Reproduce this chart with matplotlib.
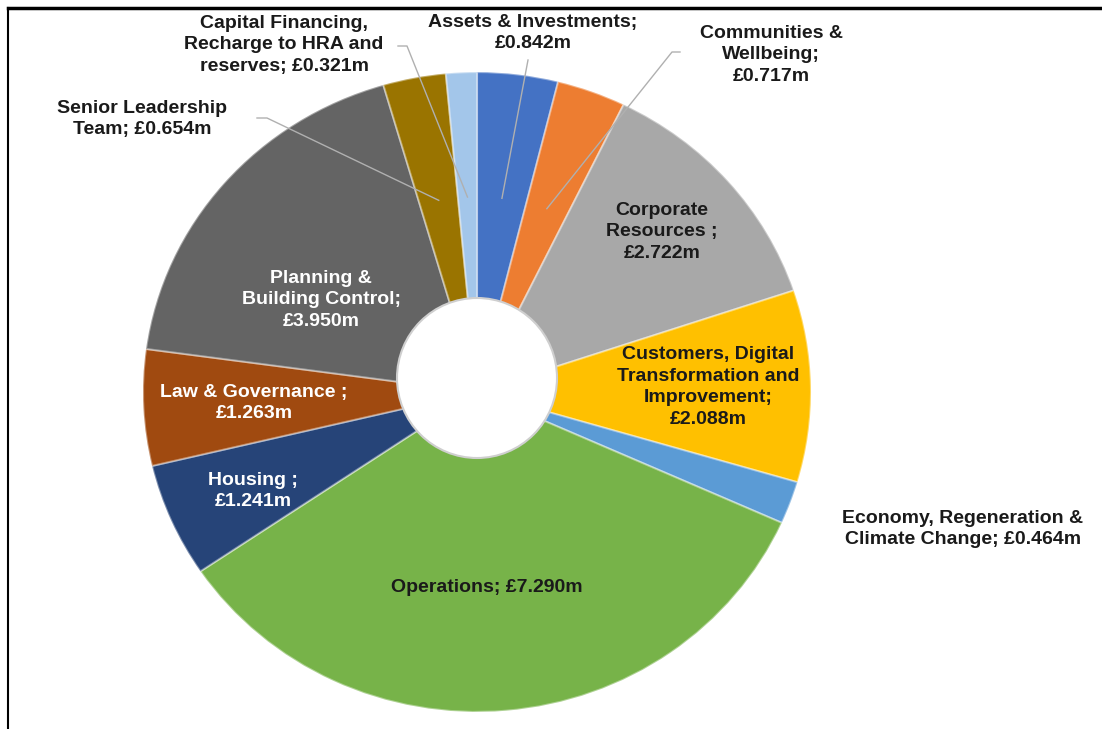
import matplotlib.pyplot as plt
from matplotlib.patches import Ellipse
from matplotlib.lines import Line2D
import numpy as np

plt.rcParams['font.family'] = ['Liberation Sans', 'DejaVu Sans']

# net spend per service, £m (clockwise from 12 o'clock)
services = ["Assets & Investments", "Communities & Wellbeing",
            "Corporate Resources", "Customers, Digital Transformation and Improvement",
            "Economy, Regeneration & Climate Change", "Operations", "Housing",
            "Law & Governance", "Planning & Building Control",
            "Senior Leadership Team", "Capital Financing, Recharge to HRA and reserves"]
spend = [0.842, 0.717, 2.722, 2.088, 0.464, 7.290, 1.241, 1.263, 3.950, 0.654, 0.321]
label_text = ["Assets & Investments;\n£{:.3f}m",
              "Communities &\nWellbeing;\n£{:.3f}m",
              "Corporate\nResources ;\n£{:.3f}m",
              "Customers, Digital\nTransformation and\nImprovement;\n£{:.3f}m",
              "Economy, Regeneration &\nClimate Change; £{:.3f}m",
              "Operations; £{:.3f}m",
              "Housing ;\n£{:.3f}m",
              "Law & Governance ;\n£{:.3f}m",
              "Planning &\nBuilding Control;\n£{:.3f}m",
              "Senior Leadership\nTeam; £{:.3f}m",
              "Capital Financing,\nRecharge to HRA and\nreserves; £{:.3f}m"]
colors = ["#4472C4", "#ED7D31", "#A8A8A8", "#FFC000", "#5B9BD5", "#77B349",
          "#264478", "#A04A10", "#646464", "#9A7400", "#A3C6EA"]

# label layout in pixels: centre of text, text colour, leader start + tick
label_pos = [(533, 33), (771, 55), (662, 232), (708, 387), (963, 529), (487, 588),
             (253, 491), (254, 403), (321, 300), (142, 119), (284, 45)]
label_col = ["#1a1a1a", "#1a1a1a", "#1a1a1a", "#1a1a1a", "#1a1a1a", "#1a1a1a",
             "white", "white", "white", "#1a1a1a", "#1a1a1a"]
leader_start = [(528, 60), (680, 52), None, None, None, None,
                None, None, None, (257, 118), (398, 46)]
leader_tick = [0, -8, 0, 0, 0, 0, 0, 0, 0, 10, 9]

W, H = 1102, 729
K = 1.044  # vertical squash of the tilted pie


def to_data(x, y):
    return x, (H - y) * K


fig = plt.figure(figsize=(W / 100, H / 100), dpi=100)
ax = fig.add_axes([0, 0, 1, 1])

cx, cy = to_data(477, 392)
R = 334
wedges, _ = ax.pie(spend, colors=colors, startangle=90, counterclock=False,
                   radius=R, center=(cx, cy),
                   wedgeprops=dict(linewidth=1.5, edgecolor=(1, 1, 1, 0.4)))
ax.set_aspect('auto')
ax.set_xlim(0, W)
ax.set_ylim(0, H * K)
ax.axis('off')

# hole of the doughnut
hx, hy = to_data(477, 378)
ax.add_patch(Ellipse((hx, hy), 160, 160 * K, facecolor='white',
                     edgecolor='#cfcfcf', lw=1.5, zorder=3))

for i, w in enumerate(wedges):
    tx, ty = to_data(*label_pos[i])
    ax.text(tx, ty, label_text[i].format(spend[i]), ha='center', va='center',
            fontsize=14, fontweight='bold', color=label_col[i],
            linespacing=1.35, zorder=5)
    if leader_start[i] is not None:
        mid = np.deg2rad((w.theta1 + w.theta2) / 2)
        ex = cx + 0.61 * R * np.cos(mid)
        ey = cy + 0.61 * R * np.sin(mid)
        sx, sy = to_data(*leader_start[i])
        ax.plot([sx, sx + leader_tick[i], ex], [sy, sy, ey], color='#b0b0b0',
                lw=1, zorder=4)

# frame of the original sheet
fig.add_artist(Line2D([8 / W, 1], [1 - 8 / H] * 2, transform=fig.transFigure,
                      color='black', lw=2.5))
fig.add_artist(Line2D([8 / W] * 2, [0, 1 - 8 / H], transform=fig.transFigure,
                      color='black', lw=1.5))

fig.savefig("out.png", dpi=100)
